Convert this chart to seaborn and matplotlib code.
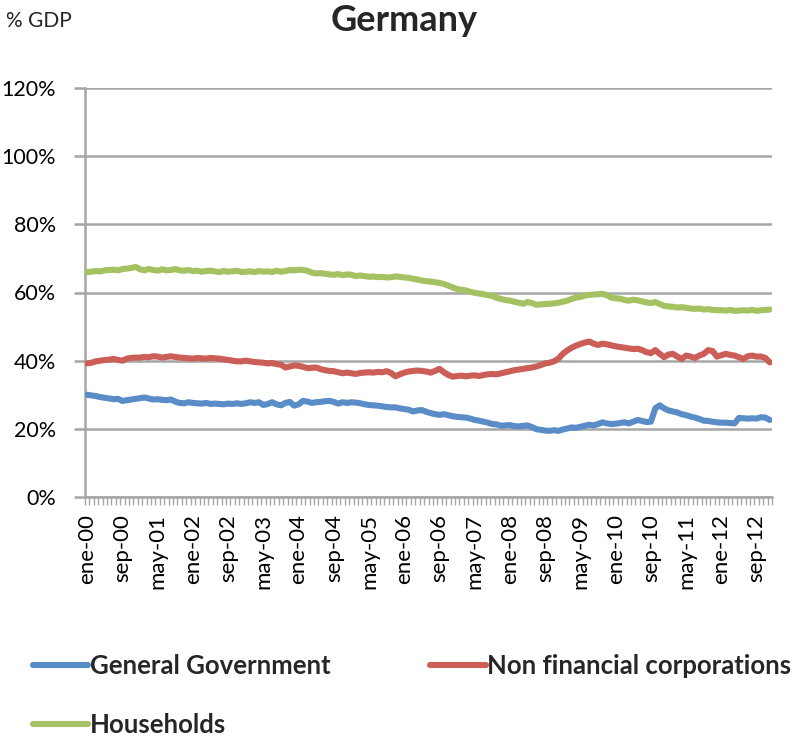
import numpy as np
import pandas as pd
import matplotlib
matplotlib.use("Agg")
import matplotlib.pyplot as plt
from matplotlib.lines import Line2D
import seaborn as sns

# Monthly debt ratios, % of GDP, January 2000 - December 2012
general_government = [
    30.0, 29.8, 29.6, 29.3, 29.1, 28.9, 28.7, 28.8, 28.2, 28.4, 28.6, 28.8,
    29.0, 29.2, 28.9, 28.6, 28.7, 28.5, 28.4, 28.6, 28.0, 27.6, 27.5, 27.8,
    27.6, 27.5, 27.4, 27.6, 27.3, 27.4, 27.3, 27.2, 27.4, 27.3, 27.5, 27.3,
    27.5, 27.8, 27.6, 27.8, 27.0, 27.3, 27.8, 27.2, 26.9, 27.6, 27.9, 26.8,
    27.2, 28.2, 28.0, 27.6, 27.8, 27.9, 28.1, 28.2, 27.9, 27.4, 27.8, 27.6,
    27.8, 27.7, 27.5, 27.2, 27.0, 26.9, 26.8, 26.6, 26.4, 26.3, 26.3, 26.0,
    25.8, 25.6, 25.1, 25.4, 25.5, 25.0, 24.6, 24.3, 24.1, 24.3, 24.0, 23.7,
    23.5, 23.4, 23.3, 23.0, 22.6, 22.4, 22.1, 21.8, 21.4, 21.3, 20.9, 21.0,
    21.1, 20.8, 20.7, 20.9, 21.0, 20.5, 19.9, 19.7, 19.5, 19.4, 19.6, 19.4,
    19.8, 20.1, 20.4, 20.3, 20.6, 20.9, 21.2, 21.0, 21.4, 21.9, 21.6, 21.4,
    21.5, 21.7, 21.9, 21.6, 22.1, 22.6, 22.3, 22.0, 22.1, 26.0, 26.9, 26.0,
    25.4, 25.1, 24.8, 24.3, 24.0, 23.6, 23.3, 22.9, 22.4, 22.3, 22.1, 21.9,
    21.8, 21.8, 21.7, 21.6, 23.2, 23.1, 23.0, 23.1, 23.0, 23.4, 23.3, 22.6,
]
non_financial_corporations = [
    39.2, 39.4, 39.8, 40.0, 40.2, 40.3, 40.5, 40.2, 40.0, 40.6, 40.8, 40.9,
    40.9, 41.1, 41.0, 41.3, 41.2, 40.9, 41.1, 41.3, 41.1, 40.9, 40.8, 40.7,
    40.6, 40.8, 40.7, 40.6, 40.8, 40.7, 40.6, 40.4, 40.2, 40.0, 39.8, 39.8,
    40.0, 39.8, 39.6, 39.5, 39.4, 39.2, 39.3, 39.0, 38.8, 38.0, 38.3, 38.6,
    38.5, 38.2, 37.8, 37.9, 38.0, 37.5, 37.2, 37.0, 36.9, 36.6, 36.3, 36.5,
    36.3, 36.1, 36.4, 36.5, 36.6, 36.5, 36.7, 36.6, 36.9, 36.4, 35.4, 36.0,
    36.5, 36.8, 37.0, 37.1, 37.0, 36.8, 36.5, 37.0, 37.6, 36.6, 35.8, 35.3,
    35.5, 35.6, 35.4, 35.6, 35.7, 35.5, 35.8, 36.0, 36.1, 36.0, 36.3, 36.6,
    36.9, 37.2, 37.4, 37.6, 37.8, 38.0, 38.3, 38.7, 39.2, 39.4, 39.8, 40.6,
    42.0, 43.0, 43.8, 44.4, 44.9, 45.3, 45.6, 45.0, 44.6, 45.0, 44.8, 44.5,
    44.2, 44.0, 43.8, 43.6, 43.4, 43.5, 43.1, 42.5, 42.2, 43.1, 42.0, 41.0,
    41.8, 42.0, 41.2, 40.5, 41.5, 41.2, 40.8, 41.5, 42.0, 43.1, 42.8, 41.2,
    41.6, 42.0, 41.7, 41.5, 41.0, 40.5, 41.3, 41.5, 41.2, 41.2, 40.8, 39.5,
]
households = [
    66.0, 66.1, 66.3, 66.2, 66.5, 66.6, 66.7, 66.5, 66.9, 67.0, 67.2, 67.5,
    66.8, 66.5, 66.9, 66.6, 66.4, 66.8, 66.5, 66.6, 66.9, 66.5, 66.4, 66.6,
    66.3, 66.4, 66.1, 66.3, 66.4, 66.2, 66.0, 66.3, 66.1, 66.2, 66.4, 66.0,
    66.1, 66.2, 66.0, 66.3, 66.1, 66.2, 66.0, 66.4, 66.1, 66.3, 66.6, 66.5,
    66.7, 66.6, 66.4, 65.8, 65.6, 65.7, 65.5, 65.3, 65.2, 65.4, 65.1, 65.3,
    65.2, 64.8, 65.0, 64.8, 64.6, 64.7, 64.5, 64.6, 64.4, 64.5, 64.7, 64.6,
    64.4, 64.3, 64.0, 63.8, 63.5, 63.3, 63.2, 63.0, 62.8, 62.5, 62.0, 61.5,
    61.0, 60.8, 60.6, 60.2, 59.9, 59.7, 59.5, 59.2, 59.0, 58.4, 58.1, 57.8,
    57.6, 57.3, 57.0, 56.7, 57.2, 56.9, 56.4, 56.5, 56.6, 56.7, 56.8, 57.0,
    57.3, 57.6, 58.1, 58.5, 58.7, 59.1, 59.3, 59.4, 59.5, 59.6, 59.2, 58.5,
    58.3, 58.2, 57.8, 57.6, 57.9, 57.7, 57.4, 57.1, 56.9, 57.2, 56.6, 56.1,
    55.9, 55.8, 55.6, 55.7, 55.5, 55.3, 55.2, 55.3, 55.0, 55.1, 54.9, 54.8,
    54.8, 54.7, 54.9, 54.6, 54.7, 54.8, 54.7, 54.9, 54.6, 54.8, 54.9, 55.0,
]

series_names = ["General Government", "Non financial corporations", "Households"]
series_colors = ["#5a8dc8", "#cb5f57", "#a4c262"]

tick_labels = [
    "ene-00", "sep-00", "may-01", "ene-02", "sep-02", "may-03", "ene-04",
    "sep-04", "may-05", "ene-06", "sep-06", "may-07", "ene-08", "sep-08",
    "may-09", "ene-10", "sep-10", "may-11", "ene-12", "sep-12",
]
y_ticks = [0, 20, 40, 60, 80, 100, 120]

n_months = len(households)
frames = []
for name, vals in zip(series_names,
                      [general_government, non_financial_corporations, households]):
    frames.append(pd.DataFrame({"month": np.arange(n_months), "value": vals, "series": name}))
df = pd.concat(frames, ignore_index=True)

sns.set_theme(style="white")
plt.rcParams["font.family"] = ["Lato", "DejaVu Sans"]

fig = plt.figure(figsize=(8.05, 7.42), dpi=100)
ax = fig.add_axes([85 / 805, 1 - 497 / 742, 687 / 805, 409 / 742])

palette = dict(zip(series_names, series_colors))
sns.lineplot(data=df, x="month", y="value", hue="series", palette=palette,
             linewidth=4.4, legend=False, ax=ax, zorder=3)

grid_color = "#a6a6a6"
ax.set_xlim(-0.5, n_months - 0.5)
ax.set_ylim(0, 120)
ax.set_yticks(y_ticks)
ax.set_yticklabels([f"{v}%" for v in y_ticks], fontsize=15.5, color="black")
ax.yaxis.grid(True, color=grid_color, linewidth=1.8)
ax.set_axisbelow(True)

ax.set_xticks(np.arange(0, n_months, 8))
ax.set_xticklabels(tick_labels, rotation=90, fontsize=16, color="black")
ax.set_xticks(np.arange(-0.5, n_months, 1), minor=True)
ax.tick_params(axis="x", which="major", length=0, pad=12)
ax.tick_params(axis="x", which="minor", length=6, width=1, color=grid_color,
               direction="out", bottom=True)
ax.tick_params(axis="y", length=8, width=1.8, color=grid_color, direction="out",
               left=True, pad=13)
ax.set_xlabel("")
ax.set_ylabel("")

for side in ["top", "right"]:
    ax.spines[side].set_visible(False)
for side in ["left", "bottom"]:
    ax.spines[side].set_color(grid_color)
    ax.spines[side].set_linewidth(1.8)

fig.text(0.502, 0.994, "Germany", ha="center", va="top", fontsize=26,
         fontweight="bold")
fig.text(0.007, 0.985, "% GDP", ha="left", va="top", fontsize=15)

handles = [Line2D([], [], color=palette[n], linewidth=4.4) for n in series_names]
order = [0, 2, 1]
fig.legend([handles[i] for i in order], [series_names[i] for i in order],
           ncol=2, loc="upper left", bbox_to_anchor=(0.012, 0.15),
           frameon=False, handlelength=2.15, handletextpad=0.06,
           columnspacing=3.9, labelspacing=1.38,
           prop={"size": 18.5, "weight": "bold"})

fig.savefig("out.png", dpi=100)
